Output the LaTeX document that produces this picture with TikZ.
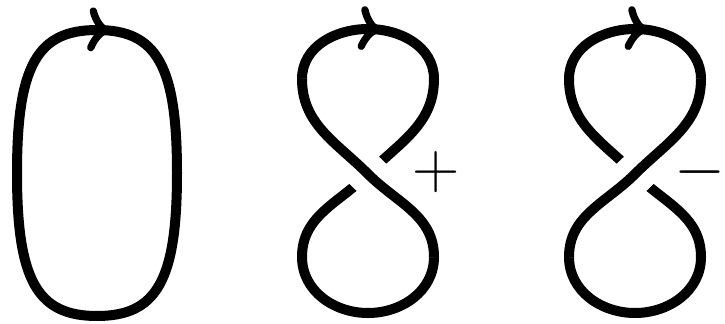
\documentclass[tikz,border=0pt]{standalone}
\usepackage{fix-cm}
\usetikzlibrary{decorations.markings}

% one figure-eight, crossing at the local origin, drawn from the top going right
\newcommand{\eightloop}{(0,145) to[out=0,in=90] (66,95) to[out=-90,in=45] (0,0)
  to[out=-135,in=90] (-66,-83) to[out=-90,in=180] (0,-139)
  to[out=0,in=-90] (66,-83) to[out=90,in=-45] (0,0)
  to[out=135,in=-90] (-66,95) to[out=90,in=180] cycle}
% the two strands through the crossing
\newcommand{\downstrand}{(66,95) to[out=-90,in=45] (0,0) to[out=-135,in=90] (-66,-83)}
\newcommand{\upstrand}{(66,-83) to[out=90,in=-45] (0,0) to[out=135,in=-90] (-66,95)}

\begin{document}
\begin{tikzpicture}[x=0.03cm, y=0.03cm,
		strand/.style={line width=0.3cm, line join=round},
		crossgap/.style={white, line width=1.2cm},
		% curved-barb head, tip at the mark, pointing along the strand
		orient/.style={postaction={decorate}, decoration={markings,
			mark=at position #1 with {\draw[line width=0.22cm, line cap=round]
				(-0.42cm,0.55cm) .. controls (-0.32cm,0.25cm) and (-0.15cm,0.06cm) .. (0,0)
				.. controls (-0.15cm,-0.06cm) and (-0.32cm,-0.25cm) .. (-0.42cm,-0.55cm);}}},
		sign/.style={inner sep=0pt, font=\fontsize{56}{56}\selectfont}
	]
	\useasboundingbox (0,0) rectangle (725,323);

	% unknot, a boxy oval
	\draw[strand, orient=0.27cm] (97,293) .. controls (157,293) and (177,257) .. (177,150)
		.. controls (177,43) and (157,7) .. (97,7)
		.. controls (37,7) and (17,43) .. (17,150)
		.. controls (17,257) and (37,293) .. cycle;

	% positive kink: the rising strand passes over
	\begin{scope}[shift={(368,149)}]
		\draw[strand, orient=0.27cm] \eightloop;
		\draw[crossgap] \upstrand;
		\draw[strand] \upstrand;
	\end{scope}
	\node[sign] (plus) at (436,151) {$+$};

	% negative kink: the falling strand passes over
	\begin{scope}[shift={(635,149)}]
		\draw[strand, orient=0.27cm] \eightloop;
		\draw[crossgap] \downstrand;
		\draw[strand] \downstrand;
	\end{scope}
	\node[sign] (minus) at (700,151) {$-$};
\end{tikzpicture}
\end{document}
